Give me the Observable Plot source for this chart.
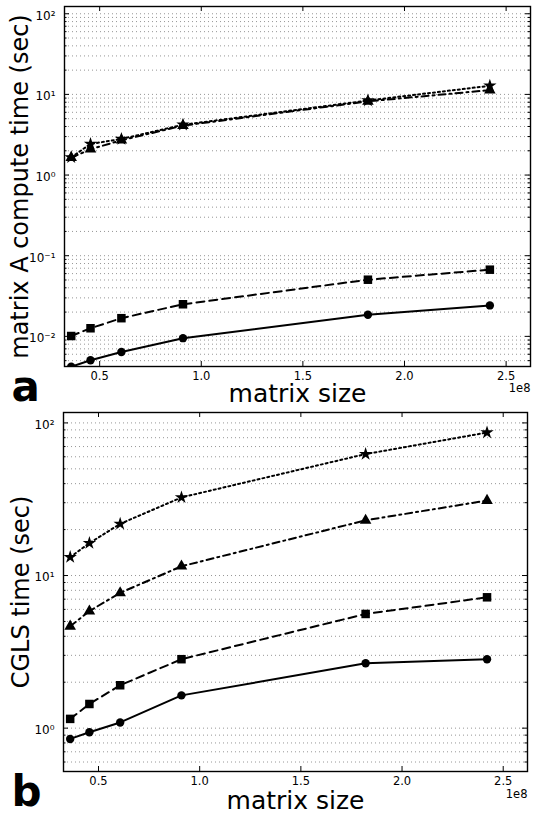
<!DOCTYPE html>
<html><head><meta charset="utf-8">
<script src="https://cdn.jsdelivr.net/npm/d3@7"></script>
<script src="https://cdn.jsdelivr.net/npm/@observablehq/plot@0.6"></script>
<style>
html,body{margin:0;padding:0;background:#fff;}
#chart{width:535px;height:814px;}
#chart svg{display:block;overflow:visible;}
</style></head><body><div id="chart"></div>
<script>
// ---- data ----
const matrixSize = [0.36e8, 0.455e8, 0.607e8, 0.91e8, 1.82e8, 2.42e8];

// panel a: matrix A compute time (sec)
const aCircle   = [0.0042, 0.00505, 0.0064, 0.0095, 0.0185, 0.0242];
const aSquare   = [0.0101, 0.0126, 0.0168, 0.025, 0.0504, 0.0671];
const aTriangle = [1.64, 2.09, 2.7, 4.1, 8.2, 11.3];
const aStar     = [1.66, 2.43, 2.8, 4.2, 8.4, 12.8];

// panel b: CGLS time (sec)
const bCircle   = [0.85, 0.94, 1.09, 1.64, 2.66, 2.83];
const bSquare   = [1.15, 1.44, 1.91, 2.83, 5.6, 7.2];
const bTriangle = [4.65, 5.85, 7.7, 11.5, 23.0, 31.0];
const bStar     = [13.2, 16.3, 21.8, 32.5, 62.5, 86.5];

const xTicks = [0.5e8, 1.0e8, 1.5e8, 2.0e8, 2.5e8];
const aYTicks = [1e-2, 1e-1, 1e0, 1e1, 1e2];
const bYTicks = [1e0, 1e1, 1e2];

const seriesStyles = [
  {symbol: "circle",   dash: null,      r: 4.2},
  {symbol: "square",   dash: "8,5",     r: 4.8},
  {symbol: "triangle", dash: "7,4,2,4", r: 4.3},
  {symbol: "star",     dash: "2,3",     r: 4.2}
];

const supMap = {"-":"⁻","0":"⁰","1":"¹","2":"²","3":"³","4":"⁴","5":"⁵","6":"⁶","7":"⁷","8":"⁸","9":"⁹"};
const fmtPow = d => "10" + String(Math.round(Math.log10(d))).replace(/./g, c => supMap[c]);

function minorTicks(domain) {
  const out = [];
  const k0 = Math.floor(Math.log10(domain[0])), k1 = Math.ceil(Math.log10(domain[1]));
  for (let k = k0; k <= k1; k++) for (let m = 1; m <= 9; m++) {
    const v = m * Math.pow(10, k);
    if (v >= domain[0] && v <= domain[1]) out.push(v);
  }
  return out;
}

function panel({height, mt, mb, ml, mr, yDomain, yTicks, seriesVals, ylabel, ylabX, letter, letterDy, xlabDy, e8Dy}) {
  const W = 535;
  const plotW = W - ml - mr, plotH = height - mt - mb;
  const rows = [];
  seriesVals.forEach((vals, i) => vals.forEach((v, j) => rows.push({s: i, x: matrixSize[j], y: v})));
  const grid = minorTicks(yDomain);
  const minor = grid.filter(v => !yTicks.includes(v));
  const marks = [
    Plot.gridY(grid, {stroke: "#8a8a8a", strokeOpacity: 1, strokeWidth: 0.9, strokeDasharray: "1,3"}),
  ];
  seriesStyles.forEach((st, i) => {
    const d = rows.filter(r => r.s === i);
    marks.push(Plot.line(d, {x: "x", y: "y", stroke: "black", strokeWidth: 2, strokeDasharray: st.dash, clip: true}));
  });
  seriesStyles.forEach((st, i) => {
    const d = rows.filter(r => r.s === i);
    marks.push(Plot.dot(d, {x: "x", y: "y", symbol: st.symbol, fill: "black", stroke: "none", r: st.r, clip: true}));
  });
  // inward ticks
  marks.push(
    Plot.tickY(yTicks, {y: d => d, stroke: "black", insetRight: plotW - 5}),
    Plot.tickY(yTicks, {y: d => d, stroke: "black", insetLeft: plotW - 5}),
    Plot.tickY(minor, {y: d => d, stroke: "black", insetRight: plotW - 2.5}),
    Plot.tickY(minor, {y: d => d, stroke: "black", insetLeft: plotW - 2.5}),
    Plot.tickX(xTicks, {x: d => d, stroke: "black", insetTop: plotH - 5}),
    Plot.tickX(xTicks, {x: d => d, stroke: "black", insetBottom: plotH - 5}),
    Plot.frame({stroke: "black", strokeWidth: 1.4}),
    Plot.axisX(xTicks, {tickSize: 0, tickPadding: 5, tickFormat: d => (d / 1e8).toFixed(1), fontSize: 11.5, label: null}),
    Plot.axisY(yTicks, {tickSize: 0, tickPadding: 9, tickFormat: fmtPow, fontSize: 12, dy: 2, label: null}),
    Plot.text(["matrix size"], {frameAnchor: "bottom", textAnchor: "middle", dy: xlabDy, fontSize: 25, lineAnchor: "bottom"}),
    Plot.text(["1e8"], {frameAnchor: "bottom-right", textAnchor: "end", dy: e8Dy, fontSize: 11.5, lineAnchor: "bottom"}),
    Plot.text([letter], {frameAnchor: "bottom-left", textAnchor: "start", dx: 11 - ml, dy: letterDy, fontSize: 42, fontWeight: "bold", lineAnchor: "bottom"}),
    Plot.text([ylabel], {frameAnchor: "left", textAnchor: "middle", rotate: -90, dx: ylabX - ml, fontSize: 24, lineAnchor: "bottom"})
  );
  return Plot.plot({
    width: W, height,
    marginTop: mt, marginBottom: mb, marginLeft: ml, marginRight: mr,
    style: {fontFamily: "DejaVu Sans", fontSize: "11.5px", color: "black", background: "white", overflow: "visible"},
    x: {type: "linear", domain: [0.327e8, 2.62e8]},
    y: {type: "log", domain: yDomain},
    marks
  });
}

const chart = document.getElementById("chart");
chart.append(panel({
  height: 407, mt: 6, mb: 41, ml: 64, mr: 5,
  yDomain: [0.00423, 123], yTicks: aYTicks,
  seriesVals: [aCircle, aSquare, aTriangle, aStar],
  ylabel: "matrix A compute time (sec)", ylabX: 27, letter: "a",
  letterDy: 34, xlabDy: 35, e8Dy: 25
}));
chart.append(panel({
  height: 407, mt: 5, mb: 43, ml: 63, mr: 8,
  yDomain: [0.52, 117], yTicks: bYTicks,
  seriesVals: [bCircle, bSquare, bTriangle, bStar],
  ylabel: "CGLS time (sec)", ylabX: 28, letter: "b",
  letterDy: 34, xlabDy: 37, e8Dy: 26
}));
</script></body></html>
